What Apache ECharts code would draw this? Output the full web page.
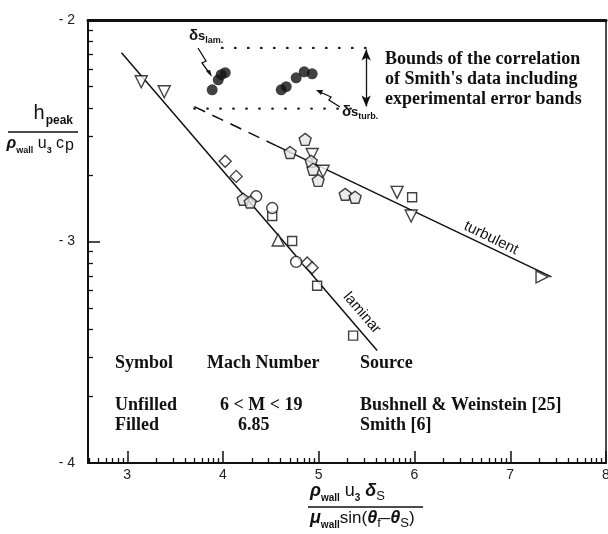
<!DOCTYPE html>
<html><head><meta charset="utf-8">
<script src="https://cdn.jsdelivr.net/npm/echarts@6/dist/echarts.min.js"></script>
<style>html,body{margin:0;padding:0;background:#fff}#c{width:608px;height:534px}</style>
</head><body><div id="c"></div>
<script>
// ---- tick labels (log10 exponents) ----
const xTickLabels = [3, 4, 5, 6, 7, 8];
const yTickLabels = [-4, -3, -2];
// ---- Bushnell & Weinstein (unfilled) ----
const downTriangles = [[3.146,-2.279],[3.386,-2.324],[4.931,-2.607],[5.046,-2.683],[5.818,-2.778],[5.965,-2.885]];
const upTriangles = [[4.576,-2.993]];
const rightTriangles = [[7.332,-3.160]];
const diamonds = [[4.023,-2.638],[4.138,-2.706],[4.879,-3.097],[4.931,-3.119]];
const squares = [[4.514,-2.885],[4.722,-2.998],[4.983,-3.200],[5.359,-3.425],[5.975,-2.800]];
const circles = [[4.347,-2.796],[4.514,-2.849],[4.764,-3.092]];
const pentagons = [[4.211,-2.809],[4.284,-2.822],[4.858,-2.539],[4.701,-2.598],[4.921,-2.638],[4.942,-2.674],[4.994,-2.724],[5.276,-2.787],[5.380,-2.800]];
// ---- Smith (filled) ----
const smithLam = [[3.887,-2.315],[3.950,-2.270],[3.981,-2.247],[4.023,-2.238]];
const smithTurb = [[4.608,-2.315],[4.660,-2.301],[4.764,-2.261],[4.848,-2.234],[4.931,-2.243]];
// ---- correlation lines ----
const laminarFit = [[2.94,-2.148],[5.61,-3.492]];
const turbulentDashed = [[3.70,-2.391],[4.56,-2.568]];
const turbulentFit = [[4.56,-2.568],[7.43,-3.160]];
const upperBound = [[3.99,-2.126],[5.53,-2.126]];
const lowerBound = [[3.70,-2.400],[5.44,-2.400]];
const boundArrow = [[5.495,-2.133],[5.495,-2.39]];

const X_MIN = 2.59, X_MAX = 8, Y_MIN = -4, Y_MAX = -2;
const minorX = [];
for (let n = 2; n < 8; n++) for (let k = 2; k < 10; k++) { const v = n + Math.log10(k); if (v > X_MIN && v < X_MAX) minorX.push(v); }
const minorY = [];
for (let n = -4; n < -2; n++) for (let k = 2; k < 10; k++) minorY.push(n + Math.log10(k));

const INK = '#111';
const SANS = 'Liberation Sans, Arial, sans-serif';
const SERIF = 'Liberation Serif, Times New Roman, serif';
const PENT = 'path://M0,-1 L0.951,-0.309 L0.588,0.809 L-0.588,0.809 L-0.951,-0.309 Z';
const openStyle = { color: '#fff', borderColor: INK, borderWidth: 1.4 };

function scatter(name, data, symbol, size, rot, style) {
  return { name, type: 'scatter', data, symbol, symbolSize: size, symbolRotate: rot || 0,
    itemStyle: style || openStyle, z: 5, silent: true };
}
function line(name, data, lineStyle, extra) {
  return Object.assign({ name, type: 'line', data, symbol: 'none', lineStyle, z: 3, silent: true }, extra || {});
}

const grid = { left: 88, right: 2, top: 20, bottom: 71, containLabel: false, outerBoundsMode: 'none' };

const option = {
  animation: false,
  backgroundColor: '#fff',
  grid: [Object.assign({}, grid), Object.assign({}, grid)],
  xAxis: [
    { gridIndex: 0, type: 'value', min: X_MIN, max: X_MAX, position: 'bottom',
      axisLine: { onZero: false, lineStyle: { color: INK, width: 2 } },
      axisTick: { show: true, inside: true, length: 12, customValues: xTickLabels, lineStyle: { color: INK, width: 1.5 } },
      axisLabel: { customValues: xTickLabels, margin: 5, color: '#222', fontSize: 14, fontFamily: SANS },
      splitLine: { show: false } },
    { gridIndex: 0, type: 'value', min: X_MIN, max: X_MAX, position: 'top',
      axisLine: { onZero: false, lineStyle: { color: INK, width: 3 } },
      axisTick: { show: false }, axisLabel: { show: false }, splitLine: { show: false } },
    { gridIndex: 1, type: 'value', min: X_MIN, max: X_MAX, position: 'bottom',
      axisLine: { show: false },
      axisTick: { show: true, inside: true, length: 5, customValues: minorX, lineStyle: { color: INK, width: 1.3 } },
      axisLabel: { show: false }, splitLine: { show: false } }
  ],
  yAxis: [
    { gridIndex: 0, type: 'value', min: Y_MIN, max: Y_MAX, position: 'left',
      axisLine: { onZero: false, lineStyle: { color: INK, width: 2 } },
      axisTick: { show: true, inside: true, length: 12, customValues: yTickLabels, lineStyle: { color: INK, width: 1.5 } },
      axisLabel: { customValues: yTickLabels, margin: 13, color: '#222', fontSize: 14, fontFamily: SANS,
        formatter: v => '- ' + Math.abs(v) },
      splitLine: { show: false } },
    { gridIndex: 0, type: 'value', min: Y_MIN, max: Y_MAX, position: 'right',
      axisLine: { onZero: false, lineStyle: { color: INK, width: 1.5 } },
      axisTick: { show: false }, axisLabel: { show: false }, splitLine: { show: false } },
    { gridIndex: 1, type: 'value', min: Y_MIN, max: Y_MAX, position: 'left',
      axisLine: { show: false },
      axisTick: { show: true, inside: true, length: 5, customValues: minorY, lineStyle: { color: INK, width: 1.3 } },
      axisLabel: { show: false }, splitLine: { show: false } }
  ],
  series: [
    line('laminar', laminarFit, { color: INK, width: 1.5 }),
    line('turbulent ext', turbulentDashed, { color: INK, width: 1.5, type: [12, 8] }),
    line('turbulent', turbulentFit, { color: INK, width: 1.5 }),
    line('upper bound', upperBound, { color: '#222', width: 2.4, type: [0.5, 12.5], cap: 'round' }, {
      markLine: { silent: true, symbol: ['arrow', 'arrow'], symbolSize: [7, 11],
        lineStyle: { type: 'solid', color: INK, width: 1.3 }, label: { show: false },
        data: [[{ coord: boundArrow[0] }, { coord: boundArrow[1] }]] } }),
    line('lower bound', lowerBound, { color: '#222', width: 2.4, type: [0.5, 12.5], cap: 'round' }),
    scatter('down triangles', downTriangles, 'triangle', 12, 180),
    scatter('up triangles', upTriangles, 'triangle', 12, 0),
    scatter('right triangles', rightTriangles, 'triangle', 12, -90),
    scatter('diamonds', diamonds, 'diamond', 12),
    scatter('squares', squares, 'rect', 9),
    scatter('circles', circles, 'circle', 11),
    scatter('pentagons', pentagons, PENT, 12, 0, { color: '#e6e6e6', borderColor: INK, borderWidth: 1.4 }),
    scatter('Smith lam', smithLam, 'circle', 11, 0, { color: INK }),
    scatter('Smith turb', smithTurb, 'circle', 11, 0, { color: INK })
  ],
  graphic: [
    // y-axis title
    { type: 'text', x: 73, y: 127, style: { text: '{h|h}{s|peak}', align: 'right', verticalAlign: 'bottom',
      rich: { h: { fontSize: 20, fontFamily: SANS, fill: INK, lineHeight: 20, verticalAlign: 'bottom', padding: [0, 1, 4, 0] },
              s: { fontSize: 12, fontWeight: 'bold', fontFamily: SANS, fill: INK, lineHeight: 12, verticalAlign: 'bottom' } } } },
    { type: 'line', shape: { x1: 8, y1: 132, x2: 78, y2: 132 }, style: { stroke: INK, lineWidth: 1.5 } },
    { type: 'text', x: 74, y: 136, style: { text: '{g|ρ}{s|wall}{n| u}{s|3}{n| c}{p|p}', align: 'right', verticalAlign: 'top',
      rich: { g: { fontSize: 16, fontStyle: 'italic', fontWeight: 'bold', fontFamily: SANS, fill: INK, lineHeight: 19, verticalAlign: 'bottom', padding: [0, 0, 3, 0] },
              n: { fontSize: 16, fontFamily: SANS, fill: INK, lineHeight: 19, verticalAlign: 'bottom', padding: [0, 0, 3, 0] },
              p: { fontSize: 16, fontFamily: SANS, fill: INK, lineHeight: 19, verticalAlign: 'bottom', padding: [0, 0, 1, 1] },
              s: { fontSize: 9, fontWeight: 'bold', fontFamily: SANS, fill: INK, lineHeight: 9, verticalAlign: 'bottom' } } } },
    // x-axis title
    { type: 'text', x: 310, y: 503, style: { text: '{g|ρ}{s|wall}{n| u}{s|3}{g| δ}{t|S}', align: 'left', verticalAlign: 'bottom',
      rich: { g: { fontSize: 18, fontStyle: 'italic', fontWeight: 'bold', fontFamily: SANS, fill: INK, lineHeight: 20, verticalAlign: 'bottom', padding: [0, 0, 3, 0] },
              n: { fontSize: 18, fontFamily: SANS, fill: INK, lineHeight: 20, verticalAlign: 'bottom', padding: [0, 0, 3, 0] },
              s: { fontSize: 10, fontWeight: 'bold', fontFamily: SANS, fill: INK, lineHeight: 10, verticalAlign: 'bottom' },
              t: { fontSize: 13, fontFamily: SANS, fill: INK, lineHeight: 13, verticalAlign: 'bottom' } } } },
    { type: 'line', shape: { x1: 308, y1: 507, x2: 423, y2: 507 }, style: { stroke: INK, lineWidth: 1.5 } },
    { type: 'text', x: 310, y: 510, style: { text: '{g|μ}{s|wall}{n|sin(}{g|θ}{t|f}{n|–}{g|θ}{t|S}{n|)}', align: 'left', verticalAlign: 'top',
      rich: { g: { fontSize: 18, fontStyle: 'italic', fontWeight: 'bold', fontFamily: SANS, fill: INK, lineHeight: 20, verticalAlign: 'bottom', padding: [0, 0, 3, 0] },
              n: { fontSize: 17, fontFamily: SANS, fill: INK, lineHeight: 20, verticalAlign: 'bottom', padding: [0, 0, 3, 0] },
              s: { fontSize: 10, fontWeight: 'bold', fontFamily: SANS, fill: INK, lineHeight: 10, verticalAlign: 'bottom' },
              t: { fontSize: 13, fontFamily: SANS, fill: INK, lineHeight: 13, verticalAlign: 'bottom' } } } },
    // line labels
    { type: 'text', x: 362, y: 313, rotation: -49.4 * Math.PI / 180,
      style: { text: 'laminar', fontSize: 15, fontFamily: SANS, fill: INK, align: 'center', verticalAlign: 'middle' } },
    { type: 'text', x: 491, y: 238, rotation: -26 * Math.PI / 180,
      style: { text: 'turbulent', fontSize: 15, fontFamily: SANS, fill: INK, align: 'center', verticalAlign: 'middle' } },
    // delta labels
    { type: 'text', x: 189, y: 45, style: { text: '{d|δ}{s|s}{t|lam.}', align: 'left', verticalAlign: 'bottom',
      rich: { d: { fontSize: 15, fontWeight: 'bold', fontFamily: SANS, fill: INK, lineHeight: 16, verticalAlign: 'bottom', padding: [0, 0, 2, 0] },
              s: { fontSize: 13, fontWeight: 'bold', fontFamily: SANS, fill: INK, lineHeight: 14, verticalAlign: 'bottom', padding: [0, 0, 2, 0] },
              t: { fontSize: 9, fontWeight: 'bold', fontFamily: SANS, fill: INK, lineHeight: 10, verticalAlign: 'bottom' } } } },
    { type: 'text', x: 342, y: 121, style: { text: '{d|δ}{s|s}{t|turb.}', align: 'left', verticalAlign: 'bottom',
      rich: { d: { fontSize: 15, fontWeight: 'bold', fontFamily: SANS, fill: INK, lineHeight: 16, verticalAlign: 'bottom', padding: [0, 0, 2, 0] },
              s: { fontSize: 13, fontWeight: 'bold', fontFamily: SANS, fill: INK, lineHeight: 14, verticalAlign: 'bottom', padding: [0, 0, 2, 0] },
              t: { fontSize: 9, fontWeight: 'bold', fontFamily: SANS, fill: INK, lineHeight: 10, verticalAlign: 'bottom' } } } },
    // zig-zag pointer arrows
    { type: 'polyline', shape: { points: [[198, 48], [206, 61], [202, 63], [210, 74]] }, style: { stroke: INK, lineWidth: 1.3, fill: null } },
    { type: 'polygon', shape: { points: [[212, 77], [206, 71], [210, 70]] }, style: { fill: INK } },
    { type: 'polyline', shape: { points: [[340, 107], [329, 100], [331, 97], [320, 92]] }, style: { stroke: INK, lineWidth: 1.3, fill: null } },
    { type: 'polygon', shape: { points: [[316, 90], [323, 90], [321, 95]] }, style: { fill: INK } },
    // bounds note
    { type: 'text', x: 385, y: 59, style: { text: 'Bounds of the correlation', fontSize: 18, fontWeight: 'bold', fontFamily: SERIF, fill: INK, align: 'left', verticalAlign: 'middle' } },
    { type: 'text', x: 385, y: 79, style: { text: "of Smith's data including", fontSize: 18, fontWeight: 'bold', fontFamily: SERIF, fill: INK, align: 'left', verticalAlign: 'middle' } },
    { type: 'text', x: 385, y: 99, style: { text: 'experimental error bands', fontSize: 18, fontWeight: 'bold', fontFamily: SERIF, fill: INK, align: 'left', verticalAlign: 'middle' } },
    // symbol table
    { type: 'text', x: 115, y: 363, style: { text: 'Symbol', fontSize: 18, fontWeight: 'bold', fontFamily: SERIF, fill: INK, verticalAlign: 'middle' } },
    { type: 'text', x: 207, y: 363, style: { text: 'Mach Number', fontSize: 18, fontWeight: 'bold', fontFamily: SERIF, fill: INK, verticalAlign: 'middle' } },
    { type: 'text', x: 360, y: 363, style: { text: 'Source', fontSize: 18, fontWeight: 'bold', fontFamily: SERIF, fill: INK, verticalAlign: 'middle' } },
    { type: 'text', x: 115, y: 405, style: { text: 'Unfilled', fontSize: 18, fontWeight: 'bold', fontFamily: SERIF, fill: INK, verticalAlign: 'middle' } },
    { type: 'text', x: 220, y: 405, style: { text: '6 < M < 19', fontSize: 18, fontWeight: 'bold', fontFamily: SERIF, fill: INK, verticalAlign: 'middle' } },
    { type: 'text', x: 360, y: 405, style: { text: 'Bushnell & Weinstein [25]', fontSize: 18, fontWeight: 'bold', fontFamily: SERIF, fill: INK, verticalAlign: 'middle' } },
    { type: 'text', x: 115, y: 425, style: { text: 'Filled', fontSize: 18, fontWeight: 'bold', fontFamily: SERIF, fill: INK, verticalAlign: 'middle' } },
    { type: 'text', x: 238, y: 425, style: { text: '6.85', fontSize: 18, fontWeight: 'bold', fontFamily: SERIF, fill: INK, verticalAlign: 'middle' } },
    { type: 'text', x: 360, y: 425, style: { text: 'Smith [6]', fontSize: 18, fontWeight: 'bold', fontFamily: SERIF, fill: INK, verticalAlign: 'middle' } }
  ]
};
const chart = echarts.init(document.getElementById('c'), null, { renderer: 'canvas' });
chart.setOption(option);
</script>
</body></html>
